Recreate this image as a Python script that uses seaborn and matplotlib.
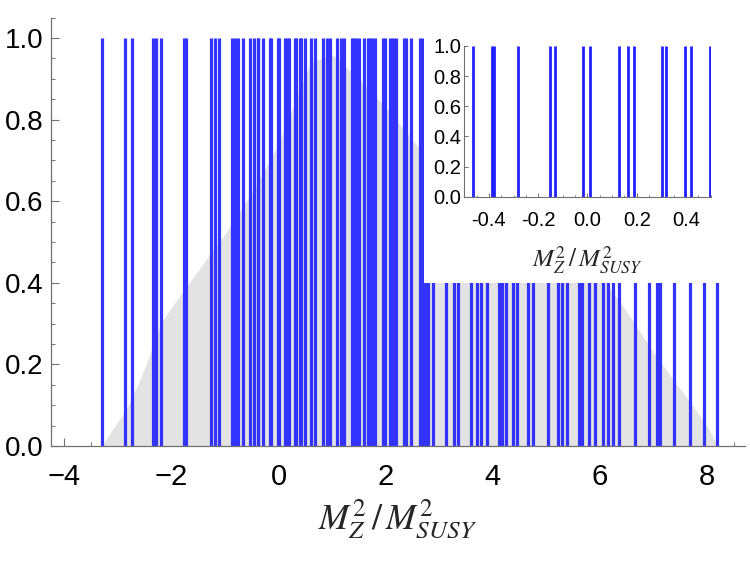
import matplotlib
matplotlib.use("Agg")
import matplotlib.pyplot as plt
from matplotlib.patches import Rectangle
from matplotlib.ticker import MultipleLocator, FormatStrFormatter
import numpy as np
import seaborn as sns

sns.set_theme(style="ticks")
plt.rcParams["font.family"] = ["Liberation Sans", "DejaVu Sans"]
plt.rcParams["mathtext.fontset"] = "stix"
plt.rcParams["axes.unicode_minus"] = True

# positions of the solutions (blue lines)
line_x = [-3.30, -2.86, -2.73, -2.34, -2.28, -2.20, -1.77, -1.73,
          -1.26, -1.19, -1.11, -0.86, -0.81, -0.76, -0.67, -0.54,
          -0.463, -0.388, -0.381, -0.283, -0.151, -0.131, -0.016, 0.009,
          0.129, 0.163, 0.190, 0.302, 0.319, 0.398, 0.419, 0.498,
          0.60, 0.69, 0.84, 0.90, 0.96, 1.09, 1.16, 1.23, 1.37, 1.41, 1.44,
          1.51, 1.60, 1.67, 1.71, 1.75, 1.81, 1.96, 1.99, 2.09, 2.14, 2.20,
          2.35, 2.38, 2.47, 2.64, 2.70, 2.75, 2.80, 2.88, 3.12, 3.27, 3.36,
          3.59, 3.70, 3.78, 3.90, 4.12, 4.18, 4.25, 4.37, 4.45, 4.66, 4.76,
          5.03, 5.22, 5.30, 5.38, 5.62, 5.67, 5.79, 5.91, 6.05, 6.15, 6.25,
          6.35, 6.66, 6.91, 7.06, 7.13, 7.39, 7.68, 7.95, 8.18]
line_h = 1.0

# background distribution (gray envelope)
dist_x = [-3.30, -3.00, -2.80, -2.50, -2.20, -2.00, -1.50, -1.00, -0.50,
          0.00, 0.30, 0.60, 1.00, 1.50, 2.00, 2.50, 3.00, 4.00, 5.00,
          6.00, 6.50, 7.00, 7.50, 8.00, 8.20]
dist_h = [0.00, 0.06, 0.10, 0.19, 0.30, 0.34, 0.43, 0.52, 0.62,
          0.74, 0.84, 0.94, 0.96, 0.90, 0.83, 0.75, 0.68, 0.58, 0.50,
          0.42, 0.33, 0.23, 0.14, 0.05, 0.00]

xlabel = r"$M_Z^2\,/\,M_{SUSY}^2$"
blue = "#3333ff"
axis_gray = "#707070"

fig = plt.figure(figsize=(7.5, 5.63), dpi=100)
ax = fig.add_axes([0.0676, 0.2078, 0.9257, 0.7609])
ax.fill_between(dist_x, dist_h, color="#e3e3e3", lw=0, zorder=1)
ax.vlines(line_x, 0, line_h, color=blue, lw=2.3, zorder=2)
ax.set_xlim(-4.253, 8.71)
ax.set_ylim(0, 1.05)
ax.xaxis.set_major_locator(MultipleLocator(2))
ax.xaxis.set_minor_locator(MultipleLocator(0.5))
ax.yaxis.set_major_locator(MultipleLocator(0.2))
ax.yaxis.set_minor_locator(MultipleLocator(0.05))
ax.yaxis.set_major_formatter(FormatStrFormatter("%.1f"))
sns.despine(ax=ax)
for s in ("left", "bottom"):
    ax.spines[s].set_color(axis_gray)
    ax.spines[s].set_linewidth(0.9)
ax.tick_params(which="major", direction="in", length=5.5, width=0.8,
               color=axis_gray, labelsize=20, labelcolor="black")
ax.tick_params(which="minor", direction="in", length=3, width=0.7,
               color=axis_gray)
ax.tick_params(axis="x", which="major", pad=12, labelsize=21)
ax.tick_params(axis="y", which="major", pad=5)
ax.set_xlabel(xlabel, fontsize=26, labelpad=5)
ax.set_facecolor("white")

# white box behind inset
fig.patches.append(Rectangle((0.5653, 0.4973), 0.4347, 0.5027,
                             transform=fig.transFigure, facecolor="white",
                             edgecolor="none", zorder=1))

ins = fig.add_axes([0.619, 0.6506, 0.3285, 0.2677])
ins.set_zorder(3)
ins_x = [v for v in line_x if -0.5 <= v <= 0.5]
ins.vlines(ins_x, 0, line_h, color="#2020ff", lw=2.0)
ins.set_xlim(-0.5, 0.5)
ins.set_ylim(0, 1)
ins.xaxis.set_major_locator(MultipleLocator(0.2))
ins.xaxis.set_minor_locator(MultipleLocator(0.05))
ins.yaxis.set_major_locator(MultipleLocator(0.2))
ins.yaxis.set_major_formatter(FormatStrFormatter("%.1f"))
ins.xaxis.set_major_formatter(FormatStrFormatter("%.1f"))
sns.despine(ax=ins)
for s in ("left", "bottom"):
    ins.spines[s].set_color(axis_gray)
    ins.spines[s].set_linewidth(0.8)
ins.tick_params(which="major", direction="in", length=3, width=0.7,
                color=axis_gray, labelsize=14.5, labelcolor="black")
ins.tick_params(which="minor", direction="in", length=1.5, width=0.6,
                color=axis_gray)
ins.tick_params(axis="x", which="major", pad=10)
ins.tick_params(axis="y", which="major", pad=2)
ins.set_xlabel(xlabel, fontsize=18, labelpad=11)
ins.patch.set_alpha(0)

fig.savefig("out.png", dpi=100)
